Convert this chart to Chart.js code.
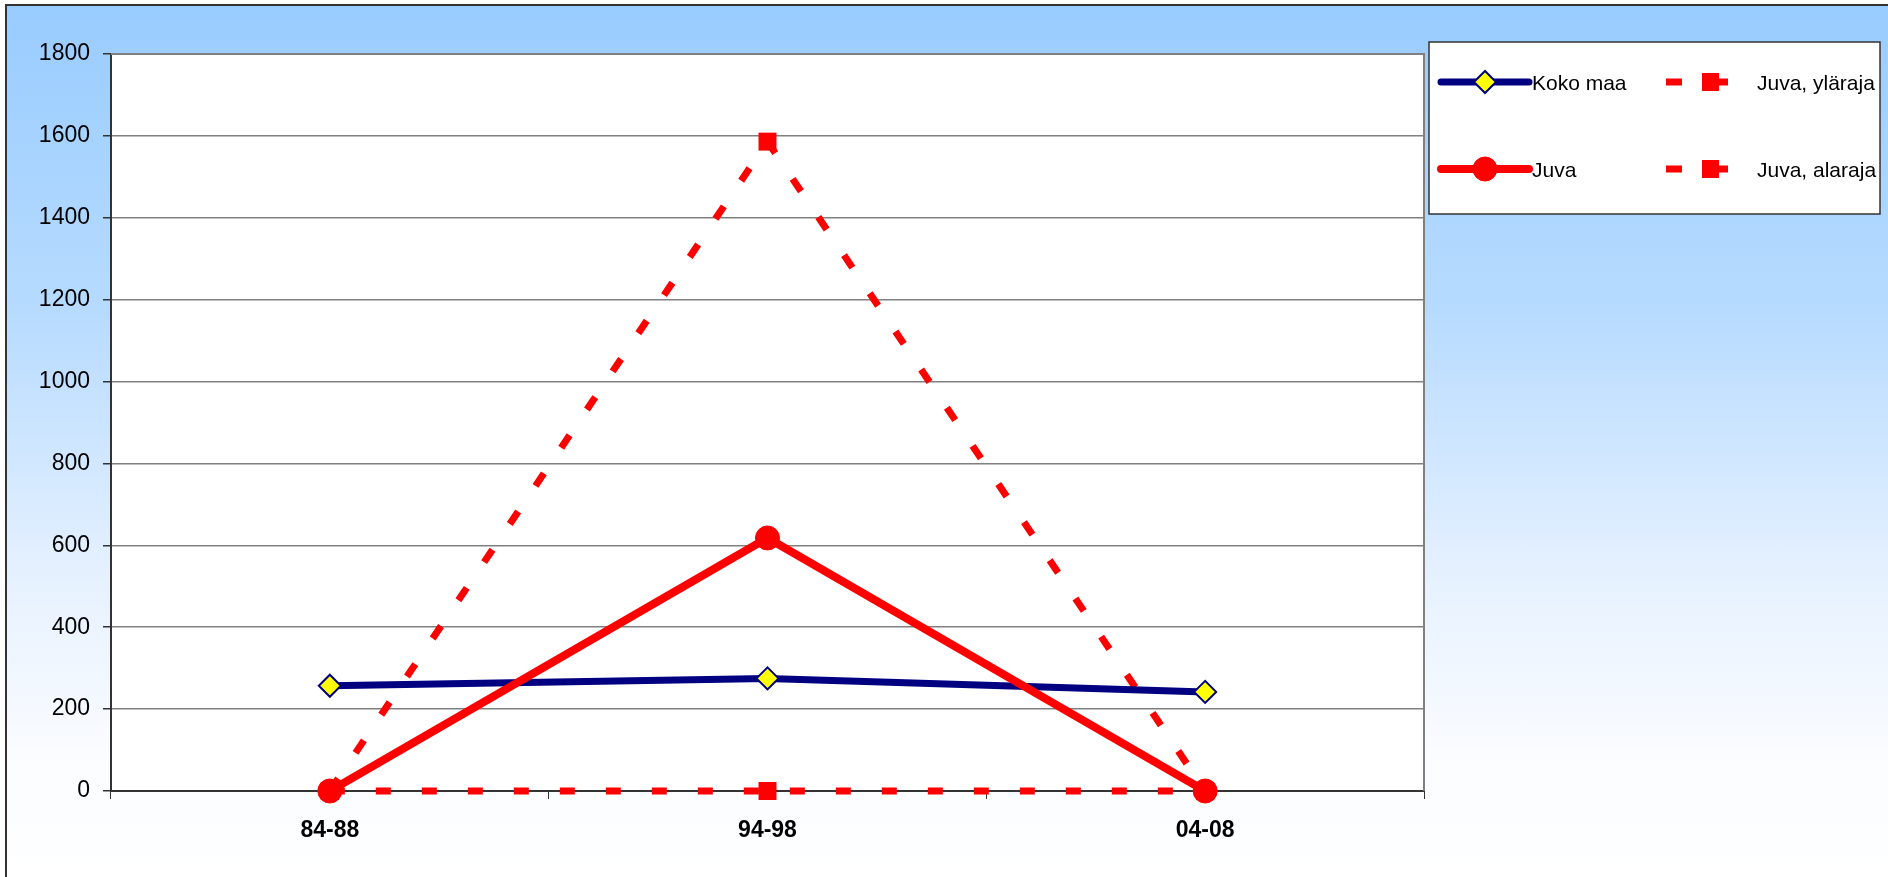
<!DOCTYPE html>
<html>
<head>
<meta charset="utf-8">
<title>Juva</title>
<script src="https://cdn.jsdelivr.net/npm/chart.js@4"></script>
<style>
    html, body { margin: 0; padding: 0; background: #ffffff; }
    #wrap {
        position: absolute; left: 0; top: 0; width: 1888px; height: 877px; overflow: hidden;
    }
    #frame {
        position: absolute; left: 5px; top: 4px; width: 1890px; height: 880px;
        border-left: 2px solid #333; border-top: 2px solid #333;
        background: linear-gradient(to bottom, #99ccff 0%, #b7dbff 35%, #e6f1ff 65%, #fafcff 85%, #ffffff 100%);
    }
    canvas { position: absolute; left: 0; top: 0; }
</style>
</head>
<body>
<div id="wrap">
    <div id="frame"></div>
    <canvas id="chart" width="1888" height="877"></canvas>
</div>
<script>
// Données
const periodes = ['84-88', '94-98', '04-08'];
const kokoMaa = [257, 275, 242];
const juva = [0, 618, 0];
const juvaYlaraja = [0, 1586, 0];
const juvaAlaraja = [0, 0, 0];
const yTicks = [0, 200, 400, 600, 800, 1000, 1200, 1400, 1600, 1800];

const ROUGE = '#ff0000';
const MARINE = '#000080';
const POLICE = '"Liberation Sans", Arial, sans-serif';

// fond blanc + cadre gris de la zone de tracé
const plotBox = {
    id: 'plotBox',
    beforeDraw(chart) {
        const a = chart.chartArea, ctx = chart.ctx;
        ctx.save();
        ctx.fillStyle = '#ffffff';
        ctx.fillRect(a.left, a.top, a.right - a.left, a.bottom - a.top);
        ctx.restore();
    },
    beforeDatasetsDraw(chart) {
        const a = chart.chartArea, ctx = chart.ctx;
        ctx.save();
        ctx.strokeStyle = '#808080';
        ctx.lineWidth = 2;
        ctx.beginPath();
        ctx.moveTo(a.left, a.top);
        ctx.lineTo(a.right, a.top);
        ctx.lineTo(a.right, a.bottom);
        ctx.stroke();
        ctx.restore();
    }
};

// légende 2 x 2 dessinée à la main
const legendeGrille = {
    id: 'legendeGrille',
    afterDraw(chart) {
        const ctx = chart.ctx;
        const ds = chart.data.datasets;
        ctx.save();
        ctx.fillStyle = '#ffffff';
        ctx.fillRect(1429, 42, 451, 172);
        ctx.strokeStyle = '#333';
        ctx.lineWidth = 1.5;
        ctx.strokeRect(1429, 42, 451, 172);

        ctx.font = '21px ' + POLICE;
        ctx.textBaseline = 'middle';
        ctx.textAlign = 'left';

        const rows = [82, 169];
        // colonne 1 : lignes pleines
        [0, 1].forEach((i, r) => {
            const y = rows[r], d = ds[i];
            ctx.strokeStyle = d.borderColor;
            ctx.lineWidth = d.borderWidth;
            ctx.lineCap = 'round';
            ctx.beginPath();
            ctx.moveTo(1441, y);
            ctx.lineTo(1529, y);
            ctx.stroke();
            ctx.lineCap = 'butt';
            ctx.fillStyle = d.pointBackgroundColor;
            ctx.strokeStyle = d.pointBorderColor;
            ctx.lineWidth = d.pointBorderWidth;
            Chart.helpers.drawPoint(ctx, {
                pointStyle: d.pointStyle,
                rotation: 0,
                radius: d.pointRadius,
                borderWidth: d.pointBorderWidth
            }, 1485, y);
            ctx.fillStyle = '#000';
            ctx.fillText(d.label, 1532, y + 2);
        });
        // colonne 2 : lignes pointillées
        [2, 3].forEach((i, r) => {
            const y = rows[r], d = ds[i];
            const h = d.borderWidth;
            ctx.fillStyle = d.borderColor;
            ctx.fillRect(1666, y - h / 2, 16, h);
            ctx.fillRect(1702, y - h / 2, 26, h);
            ctx.fillRect(1702, y - 9, 17, 18);
            ctx.fillStyle = '#000';
            ctx.fillText(d.label, 1757, y + 2);
        });
        ctx.restore();
    }
};

new Chart(document.getElementById('chart'), {
    type: 'line',
    data: {
        labels: periodes,
        datasets: [
            {
                label: 'Koko maa',
                data: kokoMaa,
                order: 1,
                clip: false,
                borderColor: MARINE,
                borderWidth: 7,
                pointStyle: 'rectRot',
                pointRadius: 11,
                pointBackgroundColor: '#ffff00',
                pointBorderColor: MARINE,
                pointBorderWidth: 2,
                tension: 0
            },
            {
                label: 'Juva',
                data: juva,
                order: 0,
                clip: false,
                borderColor: ROUGE,
                borderWidth: 8,
                pointStyle: 'circle',
                pointRadius: 12,
                pointBackgroundColor: ROUGE,
                pointBorderColor: ROUGE,
                pointBorderWidth: 1,
                tension: 0
            },
            {
                label: 'Juva, yläraja',
                data: juvaYlaraja,
                order: 2,
                clip: false,
                borderColor: ROUGE,
                borderWidth: 7,
                borderDash: [15, 31],
                pointStyle: 'rect',
                pointRadius: 12.7,
                pointBackgroundColor: ROUGE,
                pointBorderColor: ROUGE,
                pointBorderWidth: 0,
                tension: 0
            },
            {
                label: 'Juva, alaraja',
                data: juvaAlaraja,
                order: 3,
                clip: false,
                borderColor: ROUGE,
                borderWidth: 7,
                borderDash: [15, 31],
                pointStyle: 'rect',
                pointRadius: 12.7,
                pointBackgroundColor: ROUGE,
                pointBorderColor: ROUGE,
                pointBorderWidth: 0,
                tension: 0
            }
        ]
    },
    options: {
        responsive: false,
        animation: false,
        layout: {
            padding: { left: 0, top: 54, right: 464, bottom: 0 }
        },
        scales: {
            x: {
                offset: true,
                afterFit: (s) => { s.height = 86; },
                grid: {
                    offset: true,
                    drawOnChartArea: false,
                    drawTicks: true,
                    tickLength: 8,
                    color: '#333'
                },
                border: { color: '#333', width: 2 },
                ticks: {
                    padding: 18,
                    color: '#000',
                    font: { family: POLICE, size: 23, weight: 'bold' }
                }
            },
            y: {
                min: 0,
                max: 1800,
                afterFit: (s) => { s.width = 111; },
                afterBuildTicks: (s) => { s.ticks = yTicks.map(v => ({ value: v })); },
                grid: {
                    color: '#808080',
                    lineWidth: 1.5,
                    tickLength: 8,
                    tickColor: '#333'
                },
                border: { color: '#333', width: 2 },
                ticks: {
                    padding: 13,
                    color: '#000',
                    font: { family: POLICE, size: 23 },
                    callback: (v) => String(v)
                }
            }
        },
        plugins: {
            legend: { display: false },
            title: { display: false },
            tooltip: { enabled: false }
        }
    },
    plugins: [plotBox, legendeGrille]
});
</script>
</body>
</html>
